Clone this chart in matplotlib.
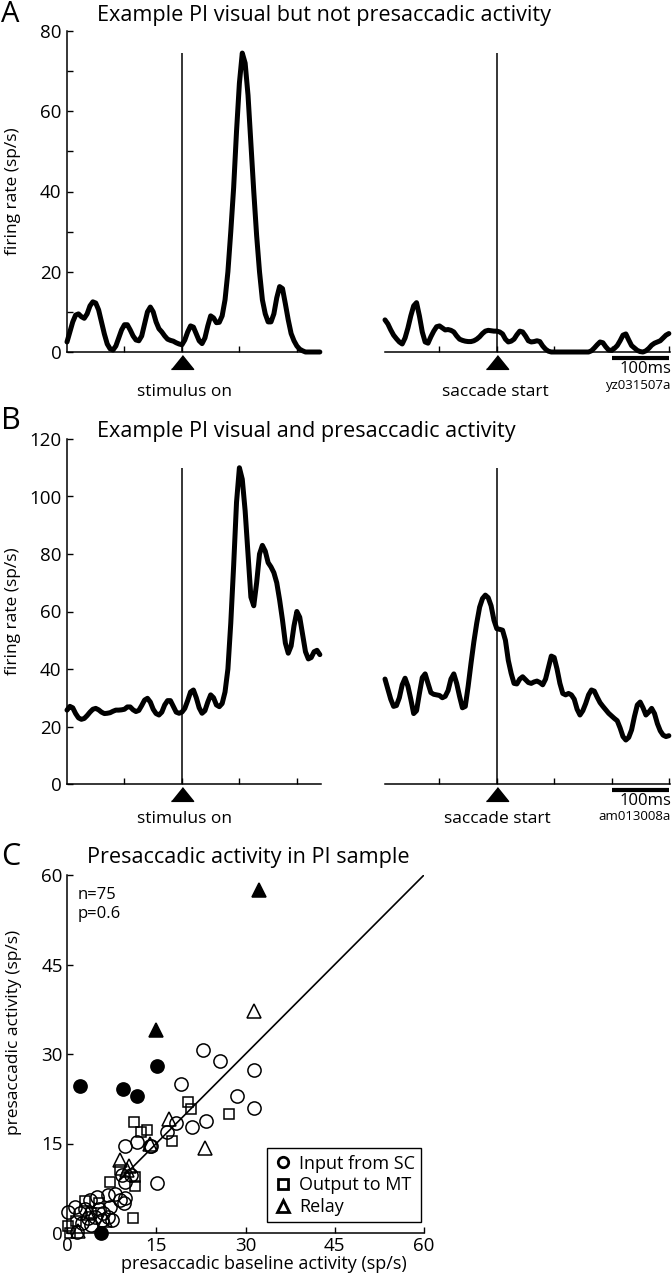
import numpy as np
import matplotlib
matplotlib.use("Agg")
import matplotlib.pyplot as plt
from matplotlib.transforms import offset_copy
from matplotlib.lines import Line2D

plt.rcParams['font.family'] = ['Open Sans', 'DejaVu Sans']

W, H = 672, 1280
STEP = 5  # ms between samples of the smoothed rate

# ---- panel A: visual but not presaccadic (sp/s, every 5 ms) ----
a_stim_start = -200
a_stim_rate = [2.5, 5, 7.5, 9.2, 9.5, 8.8, 8.4, 9.5, 11.5, 12.5,
               12.2, 10.5, 7.5, 4.5, 2, 0.8, 0.5, 1.5, 3.5, 5.5,
               6.8, 6.8, 5.5, 4, 3, 2.8, 4, 7, 10, 11.2,
               10, 7.5, 5.8, 5, 4, 3.2, 2.9, 2.7, 2.3, 2,
               1.8, 3, 5, 6.5, 6.2, 4.5, 2.8, 2.1, 3.5, 6.5,
               9, 8.5, 7.3, 7.4, 9, 13, 20, 30, 41, 55,
               67, 74.5, 72, 64, 52, 40, 29, 20, 13, 9.5,
               7.5, 7.5, 9.5, 13.5, 16.3, 15.8, 12, 8, 4.6, 2.8,
               1.5, 0.7, 0.3, 0, 0, 0, 0, 0, 0]
a_sacc_start = -195
a_sacc_rate = [8, 7, 5.5, 4.2, 3.3, 2.5, 2, 3.5, 6, 9,
               11.5, 12.3, 9, 5, 2.5, 2.2, 3.8, 5.2, 6.3, 6.5,
               6, 5.5, 5.6, 5.4, 5, 4, 3.2, 2.9, 2.7, 2.6,
               2.6, 2.8, 3.2, 3.8, 4.6, 5.2, 5.4, 5.3, 5.2, 5.2,
               5, 4.5, 3.2, 2.5, 2.7, 3.2, 4.3, 5.2, 5, 4,
               2.8, 2.5, 2.6, 2.8, 2.6, 1.5, 0.7, 0.2, 0, 0,
               0, 0, 0, 0, 0, 0, 0, 0, 0, 0,
               0, 0, 0.3, 1, 1.8, 2.5, 2.3, 1.3, 0.5, 0.4,
               0.9, 1.6, 2.8, 4.2, 4.5, 3, 1.6, 1, 0.4, 0.1,
               0, 0.3, 0.9, 1.7, 2.2, 2.5, 2.8, 3.5, 4.2, 4.6]
a_yticks = [0, 20, 40, 60, 80]
a_cell = "yz031507a"

# ---- panel B: visual and presaccadic ----
b_stim_start = -200
b_stim_rate = [25.7, 27, 26.5, 24.5, 23, 22.5, 22.8, 23.8, 25, 26,
               26.3, 25.8, 25, 24.5, 24.6, 24.8, 25.3, 25.7, 25.7, 25.8,
               26, 26.8, 26.8, 25.8, 25.2, 25.6, 27.3, 29.2, 29.8, 28.5,
               26, 24.5, 24, 25, 27.5, 29, 29, 27, 25, 24.6,
               25, 26.3, 29, 32, 32.7, 30, 26.5, 24.6, 25.5, 28.5,
               31, 30, 27.5, 26.9, 28, 32, 40, 56, 76, 98,
               110, 106, 95, 80, 65, 62, 70, 80, 83, 81,
               77, 75.5, 73.5, 70, 64, 57, 49, 45.5, 48, 55,
               60, 58, 52, 46, 43.5, 44, 46, 46.5, 45]
b_sacc_start = -195
b_sacc_rate = [36.5, 33, 29.5, 27, 27.3, 30, 34.5, 36.8, 34, 29.5,
               24.5, 25.5, 31.5, 37, 38.3, 35, 31.8, 31.2, 31, 30.8,
               30, 30.5, 32.5, 36.5, 38.3, 35, 30.5, 26.5, 27, 34,
               42, 49.5, 56, 61.5, 64.5, 65.7, 64.8, 62, 57, 54,
               53.8, 53.5, 50, 43, 38.5, 35, 34.8, 36.5, 37.3, 36.3,
               35.3, 35, 35.5, 35.8, 35.3, 34.5, 36.5, 40.5, 44.5, 44,
               40, 35, 31.5, 31, 31.5, 31, 29.5, 26, 24, 25.5,
               28, 31, 32.7, 32.3, 30.2, 28.3, 27, 25.8, 24.6, 23.7,
               22.8, 22, 19.5, 16.5, 15.3, 16.2, 18.8, 23.5, 27.5, 28.5,
               26.5, 24, 25, 26.3, 24.5, 21, 18.5, 17, 16.5, 16.8]
b_yticks = [0, 20, 40, 60, 80, 100, 120]
b_cell = "am013008a"

# ---- panel C: baseline vs presaccadic activity (sp/s) ----
sc_open_x = [22.9, 25.7, 31.5, 19.1, 28.5, 31.5, 23.4, 21.0, 18.4, 16.8, 15.1, 14.2, 11.7, 9.8, 13.9,
             0.2, 1.3, 2.2, 1.6, 3.0, 3.6, 5.0, 5.3, 6.1, 5.8, 6.9, 7.2, 7.5, 6.9, 8.9, 9.5, 9.7,
             9.2, 9.7, 10.8, 4.7, 2.5, 4.1, 8.0, 3.8]
sc_open_y = [30.7, 28.9, 27.3, 25.0, 22.9, 21.0, 18.8, 17.8, 18.5, 16.9, 8.3, 14.6, 15.2, 14.6, 14.5,
             3.6, 4.4, 3.3, 0.2, 4.1, 2.5, 6.1, 4.1, 3.3, 2.2, 6.4, 4.4, 2.2, 2.7, 5.5, 5.0, 5.8,
             9.7, 8.6, 9.7, 2.7, 1.6, 1.3, 6.5, 5.5]
sc_sig_x = [2.2, 9.4, 11.7, 15.1, 5.7]
sc_sig_y = [24.6, 24.2, 22.9, 28.0, 0.0]
mt_x = [27.2, 20.3, 20.8, 17.6, 11.2, 12.4, 13.4, 11.1, 11.4, 11.4, 8.9, 7.2, 3.0, 0.5, 0.2, 4.1, 5.3, 1.5]
mt_y = [19.9, 22.0, 20.7, 15.4, 18.6, 17.0, 17.3, 2.5, 9.4, 7.8, 10.6, 8.6, 5.3, 0.0, 1.1, 3.3, 5.0, 2.0]
relay_x = [31.5, 23.2, 17.2, 14.0, 8.9, 10.0, 1.9, 6.4, 3.6, 10.5]
relay_y = [37.2, 14.2, 19.1, 15.0, 12.3, 10.6, 0.3, 2.2, 3.3, 11.2]
relay_sig_x = [14.9, 32.3]
relay_sig_y = [34.0, 57.5]
c_ticks = [0, 15, 30, 45, 60]

fig = plt.figure(figsize=(W / 100, H / 100), dpi=100)


def px_axes(x0, y0, x1, y1):
    # box given in pixels from the top-left corner
    return fig.add_axes([x0 / W, 1 - y1 / H, (x1 - x0) / W, (y1 - y0) / H])


def px_text(x, y, s, **kw):
    fig.text(x / W, 1 - y / H, s, **kw)


def trace(ax, start, rate, xlim, ymax, top):
    t = start + STEP * np.arange(len(rate))
    ax.plot(t, rate, color='k', lw=3.6, solid_joinstyle='round',
            solid_capstyle='round', clip_on=False, zorder=3)
    ax.vlines(0, 0, top, color='k', lw=1.1)
    ax.set_xlim(*xlim)
    ax.set_ylim(0, ymax)
    for s in ['top', 'right']:
        ax.spines[s].set_visible(False)
    for s in ax.spines.values():
        s.set_linewidth(1.1)
    ax.tick_params(direction='in', length=4, width=1, labelsize=13.5, pad=4)
    ax.set_xticklabels([])
    tri = offset_copy(ax.get_xaxis_transform(), fig=fig, y=-9.5, units='dots')
    ax.plot([0], [0], marker=[(-1, -0.62), (1, -0.62), (0, 0.62)], ms=16,
            color='k', transform=tri, clip_on=False)


def panel(y_top, y_bot, stim_start, stim_rate, sacc_start, sacc_rate, yticks, cell):
    ymax = yticks[-1]
    top = max(max(stim_rate), max(sacc_rate))
    axl = px_axes(67, y_top, 321, y_bot)
    trace(axl, stim_start, stim_rate, (-200, 242), ymax, top)
    axl.set_xticks([-100, 0, 100, 200])
    axl.set_yticks(yticks)
    axl.set_ylabel('firing rate (sp/s)', fontsize=12.5)
    axl.yaxis.set_label_coords(-0.18, 0.5)

    axr = px_axes(385, y_top, 670, y_bot)
    trace(axr, sacc_start, sacc_rate, (-195, 302), ymax, top)
    axr.set_xticks([-100, 0, 100, 200, 300])
    axr.spines['left'].set_visible(False)
    axr.set_yticks([])
    bar = offset_copy(axr.get_xaxis_transform(), fig=fig, y=-6, units='dots')
    axr.plot([200, 300], [0, 0], color='k', lw=3, solid_capstyle='butt',
             transform=bar, clip_on=False)
    return axl, axr


# panel A
axl, axr = panel(31, 352, a_stim_start, a_stim_rate, a_sacc_start, a_sacc_rate, a_yticks, a_cell)
axl.set_yticks([10, 30, 50, 70], minor=True)
axl.tick_params(which='minor', direction='in', length=4, width=1)
px_text(1, 15, 'A', fontsize=21, va='center')
px_text(97, 16, 'Example PI visual but not presaccadic activity', fontsize=15.6, va='center')
px_text(184, 392, 'stimulus on', fontsize=12.5, ha='center', va='center')
px_text(495, 392, 'saccade start', fontsize=12.5, ha='center', va='center')
px_text(671, 369, '100ms', fontsize=12, ha='right', va='center')
px_text(671, 385, a_cell, fontsize=9.5, ha='right', va='center')

# panel B
panel(439, 784, b_stim_start, b_stim_rate, b_sacc_start, b_sacc_rate, b_yticks, b_cell)
px_text(1, 421, 'B', fontsize=22, va='center')
px_text(97, 432, 'Example PI visual and presaccadic activity', fontsize=15.6, va='center')
px_text(184, 819, 'stimulus on', fontsize=12.5, ha='center', va='center')
px_text(497, 819, 'saccade start', fontsize=12.5, ha='center', va='center')
px_text(671, 801, '100ms', fontsize=12, ha='right', va='center')
px_text(671, 816, b_cell, fontsize=9.5, ha='right', va='center')

# panel C
axc = px_axes(67, 875, 424, 1233)
axc.plot([9, 60], [9, 60], color='k', lw=1.2)
groups = [(sc_open_x, sc_open_y, 'o', 'none', 9.5),
          (mt_x, mt_y, 's', 'none', 7.5),
          (relay_x, relay_y, '^', 'none', 9.5),
          (sc_sig_x, sc_sig_y, 'o', 'k', 9.5),
          (relay_sig_x, relay_sig_y, '^', 'k', 9.5)]
for gx, gy, m, fc, ms in groups:
    axc.plot(gx, gy, ls='none', marker=m, ms=ms, mfc=fc, mec='k', mew=1.1, clip_on=False)
axc.set_xlim(0, 60)
axc.set_ylim(0, 60)
axc.set_xticks(c_ticks)
axc.set_yticks(c_ticks)
for s in ['top', 'right']:
    axc.spines[s].set_visible(False)
for s in axc.spines.values():
    s.set_linewidth(1.1)
axc.tick_params(direction='in', length=4, width=1, labelsize=13.5, pad=3)
axc.set_xlabel('presaccadic baseline activity (sp/s)', fontsize=13)
axc.xaxis.set_label_coords(0.552, -0.062)
axc.set_ylabel('presaccadic activity (sp/s)', fontsize=12.5)
axc.yaxis.set_label_coords(-0.125, 0.559)
axc.text(0.03, 0.945, 'n=75', transform=axc.transAxes, fontsize=12, va='center')
axc.text(0.03, 0.89, 'p=0.6', transform=axc.transAxes, fontsize=12, va='center')
handles = [Line2D([], [], ls='none', marker='o', ms=7.5, mfc='none', mec='k', mew=2),
           Line2D([], [], ls='none', marker='s', ms=7, mfc='none', mec='k', mew=2),
           Line2D([], [], ls='none', marker='^', ms=8, mfc='none', mec='k', mew=2)]
leg = axc.legend(handles, ['Input from SC', 'Output to MT', 'Relay'], loc='lower right',
                 bbox_to_anchor=(0.992, 0.03), fontsize=13, frameon=True, fancybox=False,
                 edgecolor='k', framealpha=1, borderpad=0.35, handlelength=1.0,
                 handletextpad=0.4, labelspacing=0.2, borderaxespad=0)
leg.get_frame().set_linewidth(1)
px_text(1, 857, 'C', fontsize=22, va='center')
px_text(87, 858, 'Presaccadic activity in PI sample', fontsize=15.6, va='center')

fig.savefig('out.png', dpi=100)
